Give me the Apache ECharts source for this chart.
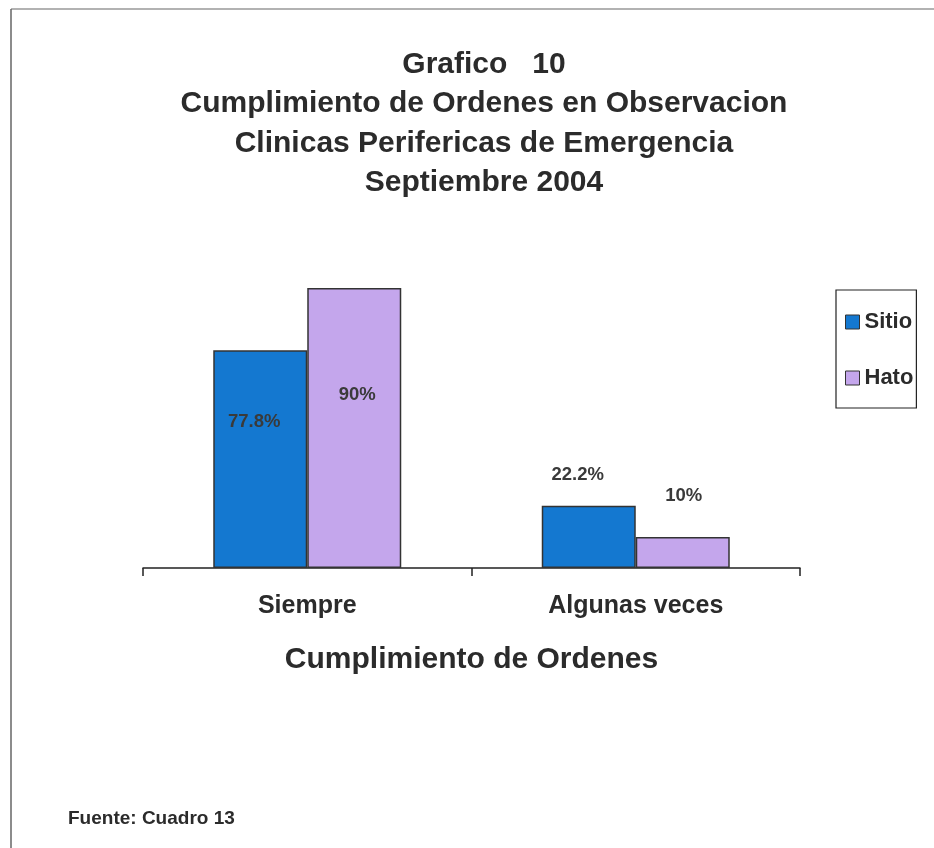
<!DOCTYPE html>
<html>
<head>
<meta charset="utf-8">
<script src="https://cdn.jsdelivr.net/npm/echarts@6/dist/echarts.min.js"></script>
<style>
  html, body { margin: 0; padding: 0; background: #fff; }
  #chart { width: 934px; height: 848px; }
</style>
</head>
<body>
<div id="chart"></div>
<script>
// datos
var categories = ['Siempre', 'Algunas veces'];
var seriesNames = ['Sitio', 'Hato'];
var sitioValues = [70, 20];
var hatoValues = [90, 10];
var sitioLabels = ['77.8%', '22.2%'];
var hatoLabels = ['90%', '10%'];
var titleLines = ['Grafico   10', 'Cumplimiento de Ordenes en Observacion', 'Clinicas Perifericas de Emergencia', 'Septiembre 2004'];
var axisTitle = 'Cumplimiento de Ordenes';
var sourceNote = 'Fuente: Cuadro 13';

// desplazamiento de las etiquetas respecto al centro de cada barra
var sitioLabelShift = [[-6, -37], [-11, -62]];
var hatoLabelShift = [[3, -33], [1, -57]];

var ink = '#2b2b2b';
var font = '"Liberation Sans", Arial, sans-serif';

function barData(values, labels, shifts) {
  return values.map(function (v, i) {
    return {
      value: v,
      label: { formatter: labels[i], offset: shifts[i] }
    };
  });
}

var chart = echarts.init(document.getElementById('chart'));
chart.setOption({
  backgroundColor: '#fff',
  animation: false,
  title: {
    text: titleLines.join('\n'),
    left: 479,
    top: 40,
    textAlign: 'center',
    textStyle: { fontFamily: font, fontSize: 30, fontWeight: 'bold', color: ink, lineHeight: 39.3 }
  },
  legend: {
    orient: 'vertical',
    left: 836,
    top: 290,
    padding: [21, 3, 19, 9],
    itemGap: 34,
    itemWidth: 14,
    itemHeight: 14,
    icon: 'rect',
    borderColor: '#222',
    borderWidth: 1.2,
    itemStyle: { borderColor: '#333', borderWidth: 1 },
    textStyle: { fontFamily: font, fontSize: 22, fontWeight: 'bold', color: ink },
    data: seriesNames
  },
  grid: { left: 143, right: 134, top: 257, bottom: 280 },
  xAxis: {
    type: 'category',
    data: categories,
    axisLine: { lineStyle: { color: '#222', width: 1.5 } },
    axisTick: { show: true, length: 8, lineStyle: { color: '#222', width: 1.5 } },
    axisLabel: { margin: 26, fontFamily: font, fontSize: 25, fontWeight: 'bold', color: ink },
    name: axisTitle,
    nameLocation: 'middle',
    nameGap: 77,
    nameTextStyle: { fontFamily: font, fontSize: 30, fontWeight: 'bold', color: ink }
  },
  yAxis: {
    type: 'value',
    min: 0,
    max: 100,
    show: false
  },
  series: [
    {
      name: seriesNames[0],
      type: 'bar',
      barWidth: 94,
      barGap: '0%',
      itemStyle: { color: '#1478d0', borderColor: '#333', borderWidth: 1.5 },
      label: { show: true, position: 'inside', fontFamily: font, fontSize: 18.5, fontWeight: 'bold', color: '#3a3a3a' },
      data: barData(sitioValues, sitioLabels, sitioLabelShift)
    },
    {
      name: seriesNames[1],
      type: 'bar',
      barWidth: 94,
      barGap: '0%',
      itemStyle: { color: '#c4a6ec', borderColor: '#333', borderWidth: 1.5 },
      label: { show: true, position: 'inside', fontFamily: font, fontSize: 18.5, fontWeight: 'bold', color: '#3a3a3a' },
      data: barData(hatoValues, hatoLabels, hatoLabelShift)
    }
  ],
  graphic: [
    { type: 'line', shape: { x1: 11, y1: 9, x2: 934, y2: 9 }, style: { stroke: '#666', lineWidth: 1.2 } },
    { type: 'line', shape: { x1: 11, y1: 9, x2: 11, y2: 848 }, style: { stroke: '#666', lineWidth: 1.5 } },
    {
      type: 'text', left: 68, top: 809,
      style: { text: sourceNote, fontFamily: font, fontSize: 19, fontWeight: 'bold', fill: ink }
    }
  ]
});
</script>
</body>
</html>
